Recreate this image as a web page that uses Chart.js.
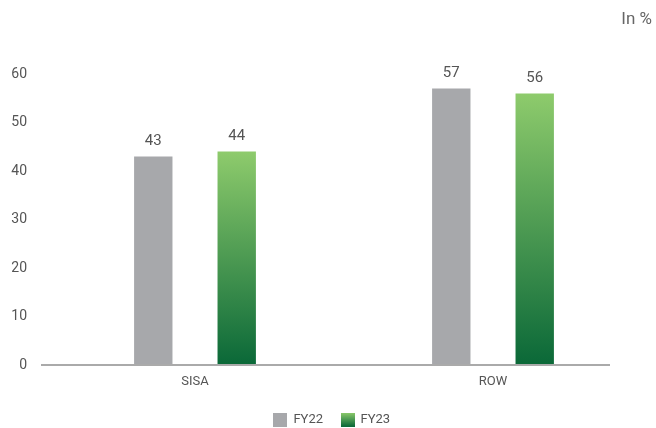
<!DOCTYPE html>
<html>
<head>
<meta charset="utf-8">
<script src="https://cdn.jsdelivr.net/npm/chart.js@4"></script>
<style>
  html, body { margin: 0; padding: 0; background: #fff; }
  #wrap { width: 656px; height: 428px; position: relative; }
</style>
</head>
<body>
<div id="wrap"><canvas id="shareChart"></canvas></div>
<script>
const categories = ["SISA", "ROW"];
const fy22 = [43, 57];
const fy23 = [44, 56];
const yTicks = [0, 10, 20, 30, 40, 50, 60];

const GREY = "#a7a8ab";
const GREEN_TOP = "#8ecb6c";
const GREEN_BOTTOM = "#0a6838";
const TEXT = "#555";
const FONT = "Roboto, 'Liberation Sans', sans-serif";

// small swatches for the legend boxes
function swatch(fill) {
    const c = document.createElement("canvas");
    c.width = 14; c.height = 14;
    const g = c.getContext("2d");
    if (fill === "grad") {
        const gr = g.createLinearGradient(0, 0, 0, 14);
        gr.addColorStop(0, GREEN_TOP);
        gr.addColorStop(1, GREEN_BOTTOM);
        g.fillStyle = gr;
    } else {
        g.fillStyle = fill;
    }
    g.fillRect(0, 0, 14, 14);
    return c;
}

// each green bar fades from light at its top to dark at the baseline
function greenFill(ctx) {
    const chart = ctx.chart;
    const y = chart.scales.y;
    if (!y || !ctx.parsed) return GREEN_TOP;
    const top = y.getPixelForValue(ctx.parsed.y);
    const bottom = y.getPixelForValue(0);
    if (!isFinite(top) || !isFinite(bottom) || top === bottom) return GREEN_TOP;
    const gr = chart.ctx.createLinearGradient(0, top, 0, bottom);
    gr.addColorStop(0, GREEN_TOP);
    gr.addColorStop(1, GREEN_BOTTOM);
    return gr;
}

const baseline = {
    id: "baseline",
    afterDatasetsDraw(chart) {
        const y = chart.scales.y.getPixelForValue(0);
        const c = chart.ctx;
        c.save();
        c.strokeStyle = "#aaaaaa";
        c.lineWidth = 2;
        c.beginPath();
        c.moveTo(41, y);
        c.lineTo(610, y);
        c.stroke();
        c.restore();
    }
};

// legend sits a little right of the plot centre
const legendShift = {
    id: "legendShift",
    afterLayout(chart) {
        if (chart.legend) {
            chart.legend.left += 22;
        }
    }
};

const valueLabels = {
    id: "valueLabels",
    afterDatasetsDraw(chart) {
        const c = chart.ctx;
        c.save();
        c.fillStyle = TEXT;
        c.font = "15px " + FONT;
        c.textAlign = "center";
        c.textBaseline = "middle";
        chart.data.datasets.forEach((ds, i) => {
            chart.getDatasetMeta(i).data.forEach((bar, j) => {
                c.fillText(ds.data[j], bar.x, bar.y - 15);
            });
        });
        c.restore();
    }
};

const inPct = {
    id: "inPct",
    afterDraw(chart) {
        const c = chart.ctx;
        c.save();
        c.fillStyle = "#666";
        c.font = "17px " + FONT;
        c.textAlign = "right";
        c.textBaseline = "middle";
        c.fillText("In %", 652, 20);
        c.restore();
    }
};

new Chart(document.getElementById("shareChart"), {
    type: "bar",
    data: {
        labels: categories,
        datasets: [
            { label: "FY22", data: fy22, backgroundColor: GREY, pointStyle: swatch(GREY) },
            { label: "FY23", data: fy23, backgroundColor: greenFill, pointStyle: swatch("grad") }
        ]
    },
    options: {
        responsive: true,
        maintainAspectRatio: false,
        animation: false,
        layout: { padding: { top: 74, right: 14, left: 0, bottom: -8 } },
        datasets: { bar: { categoryPercentage: 0.56, barPercentage: 0.46 } },
        scales: {
            x: {
                afterFit: s => { s.height = 30; },
                grid: { display: false },
                border: { display: false },
                ticks: { color: TEXT, font: { family: FONT, size: 13 }, padding: 1 }
            },
            y: {
                min: 0,
                max: 60,
                afterBuildTicks: s => { s.ticks = yTicks.map(v => ({ value: v })); },
                afterFit: s => { s.width = 46; },
                grid: { display: false },
                border: { display: false },
                ticks: { color: TEXT, font: { family: FONT, size: 14 }, padding: 11 }
            }
        },
        plugins: {
            legend: {
                position: "bottom",
                labels: {
                    usePointStyle: true,
                    color: TEXT,
                    font: { family: FONT, size: 13 },
                    padding: 18
                }
            },
            tooltip: { enabled: false }
        }
    },
    plugins: [baseline, legendShift, valueLabels, inPct]
});
</script>
</body>
</html>
